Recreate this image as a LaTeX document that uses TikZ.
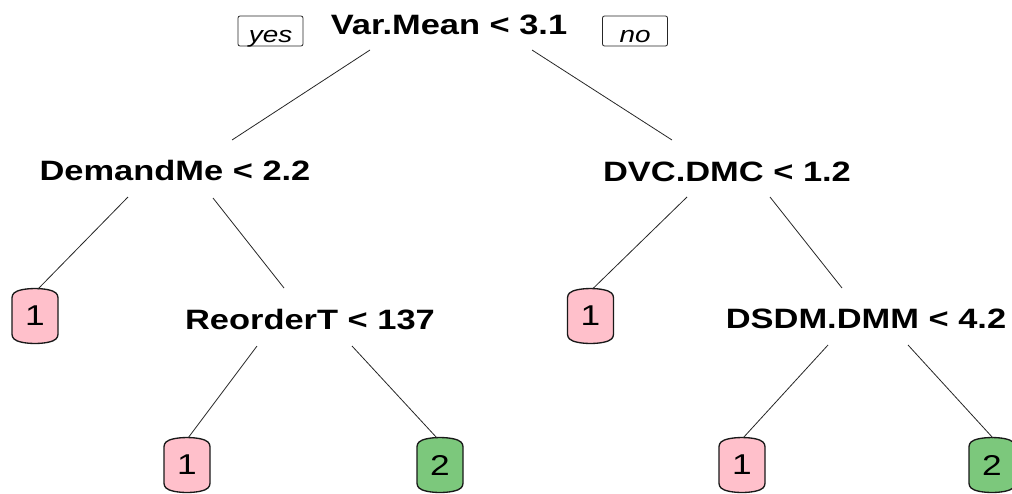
\documentclass[tikz,border=0pt]{standalone}
\usepackage{fontspec}
\usepackage{graphicx}
\setmainfont{Liberation Sans}
\usetikzlibrary{calc}
\definecolor{leafpink}{RGB}{255,192,203}
\definecolor{leafgreen}{RGB}{124,200,124}
\newcommand\sx[1]{\scalebox{1.23}[1]{#1}}
\newcommand\leafnode[4]{% name, position, colour, text
  \coordinate (#1c) at (#2);
  \draw[leafshape, fill=#3] ($(#1c)+(-23,-21)$) .. controls ($(#1c)+(-15,-29)$) and ($(#1c)+(15,-29)$) .. ($(#1c)+(23,-21)$)
     -- ($(#1c)+(23,21)$) .. controls ($(#1c)+(15,29)$) and ($(#1c)+(-15,29)$) .. ($(#1c)+(-23,21)$) -- cycle;
  \node[leaftext] (#1) at (#1c) {\sx{#4}};
}
\begin{document}
\begin{tikzpicture}[x=0.75pt, y=-0.75pt,
  split/.style={inner sep=0pt, text depth=0pt, font=\fontsize{21}{24}\selectfont\bfseries},
  leaftext/.style={inner sep=0pt, minimum width=34.5pt, minimum height=40pt, font=\fontsize{21.5}{24}\selectfont},
  leafshape/.style={draw=black!90, line width=1pt, rounded corners=2pt},
  yn/.style={draw=black!85, line width=0.6pt, rounded corners=1.5pt, inner sep=0pt,
    minimum width=48.75pt, minimum height=22.5pt, text height=16.5pt, text depth=0pt,
    font=\fontsize{17}{20}\selectfont\itshape},
  edge/.style={draw=black!85, line width=0.6pt}]
\path[use as bounding box] (0,0) rectangle (1012,493);

\node[split] (root) at (449,25) {\sx{Var.Mean < 3.1}};
\node[yn] (yes) at (270.5,31) {\sx{yes}};
\node[yn] (no) at (635,31) {\sx{no}};

\node[split] (dm) at (175,170) {\sx{DemandMe < 2.2}};
\node[split] (dvc) at (727,172) {\sx{DVC.DMC < 1.2}};
\node[split] (ro) at (310,319) {\sx{ReorderT < 137}};
\node[split] (dsdm) at (866,319) {\sx{DSDM.DMM < 4.2}};

\leafnode{l1}{35,316}{leafpink}{1}
\leafnode{l2}{187,465}{leafpink}{1}
\leafnode{l3}{440,465}{leafgreen}{2}
\leafnode{l4}{590.5,316}{leafpink}{1}
\leafnode{l5}{742,465}{leafpink}{1}
\leafnode{l6}{992,465}{leafgreen}{2}

\draw[edge] ($(root.center)+(-79,25)$) -- ($(dm.center)+(57,-30)$);
\draw[edge] ($(root.center)+(83,25)$) -- ($(dvc.center)+(-55,-32)$);
\draw[edge] ($(dm.center)+(-47,27)$) -- ($(l1.center)+(3,-27)$);
\draw[edge] ($(dm.center)+(38,28)$) -- ($(ro.center)+(-26,-31)$);
\draw[edge] ($(dvc.center)+(-40,25)$) -- ($(l4.center)+(2,-27)$);
\draw[edge] ($(dvc.center)+(43,25)$) -- ($(dsdm.center)+(-24,-31)$);
\draw[edge] ($(ro.center)+(-53,27)$) -- ($(l2.center)+(1,-27)$);
\draw[edge] ($(ro.center)+(42,27)$) -- ($(l3.center)+(-3,-27)$);
\draw[edge] ($(dsdm.center)+(-38,26)$) -- ($(l5.center)+(1,-27)$);
\draw[edge] ($(dsdm.center)+(42,26)$) -- ($(l6.center)+(1,-27)$);
\end{tikzpicture}
\end{document}
